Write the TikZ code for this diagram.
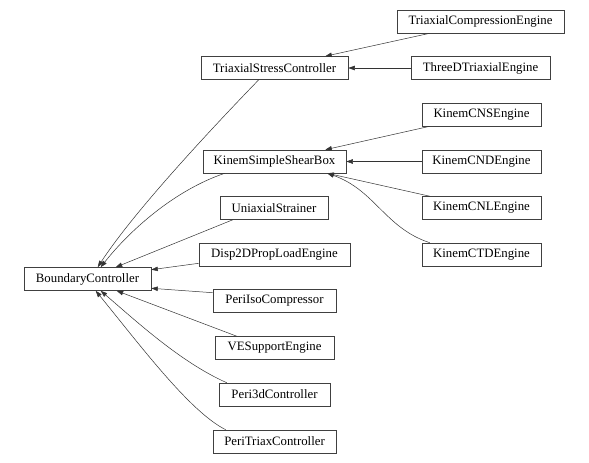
\documentclass[tikz,border=0pt]{standalone}
\usepackage{fontspec}
\setmainfont{Liberation Serif}
\usetikzlibrary{arrows.meta,calc}
\tikzset{
  cls/.style={draw=black!75, line width=0.6pt, minimum height=23pt, inner sep=0pt, font=\fontsize{12.8}{14}\selectfont, fill=white},
  inh/.style={draw=black!80, line width=0.5pt, -{Triangle[length=6.5pt,width=4.5pt]}}
}
\begin{document}
\begin{tikzpicture}[x=1pt,y=-1pt]
\useasboundingbox (0,0) rectangle (589,463);
\node[cls, minimum width=167pt] (TCE) at (480.5,21.5) {TriaxialCompressionEngine};
\node[cls, minimum width=147pt] (TSC) at (274.5,68) {TriaxialStressController};
\node[cls, minimum width=139pt] (TDT) at (480.5,68) {ThreeDTriaxialEngine};
\node[cls, minimum width=119pt] (CNS) at (481.5,114.5) {KinemCNSEngine};
\node[cls, minimum width=143pt] (KSSB) at (274.5,161.5) {KinemSimpleShearBox};
\node[cls, minimum width=119pt] (CND) at (481.5,161.5) {KinemCNDEngine};
\node[cls, minimum width=119pt] (CNL) at (481.5,208) {KinemCNLEngine};
\node[cls, minimum width=119pt] (CTD) at (481.5,254.5) {KinemCTDEngine};
\node[cls, minimum width=108pt] (US) at (274,208) {UniaxialStrainer};
\node[cls, minimum width=151pt] (DTD) at (274.5,254.5) {Disp2DPropLoadEngine};
\node[cls, minimum width=127pt] (BC) at (87.5,279) {BoundaryController};
\node[cls, minimum width=123pt] (PIC) at (274.5,301) {PeriIsoCompressor};
\node[cls, minimum width=119pt] (VES) at (274.5,348) {VESupportEngine};
\node[cls, minimum width=111pt] (PTD) at (274.5,394.5) {Peri3dController};
\node[cls, minimum width=123pt] (PTC) at (274.5,441.5) {PeriTriaxController};

% edges to TriaxialStressController
\draw[inh] ([xshift=33pt]TCE.south west) -- ([xshift=-23pt]TSC.north east);
\draw[inh] (TDT.west) -- (TSC.east);
% edges to KinemSimpleShearBox
\draw[inh] ([xshift=8pt]CNS.south west) -- ([xshift=-21pt]KSSB.north east);
\draw[inh] (CND.west) -- (KSSB.east);
\draw[inh] ([xshift=8pt]CNL.north west) -- ([xshift=-19pt]KSSB.south east);
\draw[inh] ([xshift=8pt]CTD.north west) .. controls (385,228) and (375,190) .. ([xshift=-19pt]KSSB.south east);
% edges to BoundaryController
\draw[inh] ([xshift=58pt]TSC.south west) .. controls (215,125) and (135,210) .. ([xshift=74pt]BC.north west);
\draw[inh] ([xshift=22pt]KSSB.south west) .. controls (175,190) and (130,230) .. ([xshift=77pt]BC.north west);
\draw[inh] ([xshift=13pt]US.south west) -- ([xshift=92pt]BC.north west);
\draw[inh] ([yshift=3pt]DTD.south west) -- ([yshift=-2.5pt]BC.north east);
\draw[inh] ([yshift=-3.5pt]PIC.north west) -- ([yshift=2.5pt]BC.south east);
\draw[inh] ([xshift=22pt]VES.north west) -- ([xshift=93pt]BC.south west);
\draw[inh] ([xshift=8pt]PTD.north west) .. controls (180,362) and (135,320) .. ([xshift=77pt]BC.south west);
\draw[inh] ([xshift=13pt]PTC.north west) .. controls (190,412) and (140,345) .. ([xshift=72pt]BC.south west);
\end{tikzpicture}
\end{document}
